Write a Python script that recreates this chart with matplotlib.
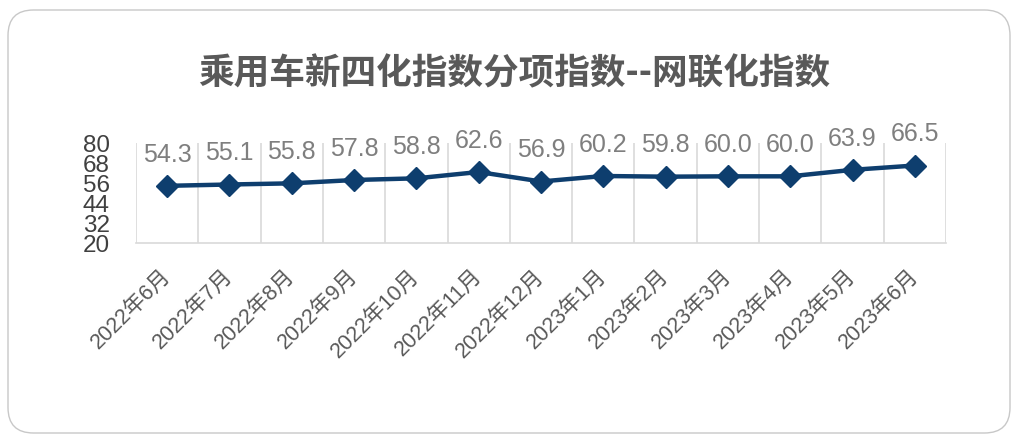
import matplotlib
matplotlib.use("Agg")
import matplotlib.pyplot as plt
from matplotlib.patches import FancyBboxPatch

plt.rcParams['font.family'] = ['Noto Sans CJK SC', 'DejaVu Sans']

categories = ["2022年6月", "2022年7月", "2022年8月", "2022年9月", "2022年10月",
              "2022年11月", "2022年12月", "2023年1月", "2023年2月", "2023年3月",
              "2023年4月", "2023年5月", "2023年6月"]
values = [54.3, 55.1, 55.8, 57.8, 58.8, 62.6, 56.9, 60.2, 59.8, 60.0, 60.0, 63.9, 66.5]
yticks = [20, 32, 44, 56, 68, 80]
title = "乘用车新四化指数分项指数--网联化指数"

W, H = 1019, 443
fig = plt.figure(figsize=(W / 100, H / 100), dpi=100)
fig.patch.set_facecolor('white')

# rounded outer frame
frame = FancyBboxPatch((8 / W, 10 / H), (1002) / W, (423) / H,
                       boxstyle="round,pad=0,rounding_size=0.025",
                       transform=fig.transFigure, fill=False,
                       edgecolor='#c8c8c8', linewidth=1.0,
                       mutation_aspect=W / H)
fig.patches.append(frame)

ax = fig.add_axes([136 / W, 1 - 243 / H, (946 - 136) / W, 100 / H])
n = len(categories)
x = list(range(n))
ax.plot(x, values, color='#0e3e6e', linewidth=3.2, marker='D',
        markersize=11.5, markerfacecolor='#0e3e6e', markeredgecolor='#0e3e6e',
        zorder=3, clip_on=False)

for xi, v in zip(x, values):
    ax.annotate(f"{v:.1f}", (xi, v), xytext=(0, 17.5), textcoords='offset points',
                ha='center', va='baseline', fontsize=18, color='#7f7f7f',
                family=['Liberation Sans', 'DejaVu Sans'])

ax.set_xlim(-0.5, n - 0.5)
ax.set_ylim(20, 80)
ax.set_yticks(yticks)
ax.set_yticklabels([str(t) for t in yticks], fontsize=17.5, color='#404040',
                   family=['Liberation Sans', 'DejaVu Sans'])
ax.set_xticks(x)
ax.set_xticklabels(categories, rotation=45, ha='right', va='center',
                   rotation_mode='anchor',
                   fontsize=15.5, color='#595959',
                   family=['Liberation Sans', 'Noto Sans CJK SC'])
ax.tick_params(axis='both', length=0)
ax.tick_params(axis='y', pad=19)
ax.tick_params(axis='x', pad=21.5)

# vertical category gridlines
for b in [i - 0.5 for i in range(n + 1)]:
    ax.axvline(b, color='#d9d9d9', linewidth=1.2, zorder=1)

for s in ['top', 'right', 'left']:
    ax.spines[s].set_visible(False)
ax.spines['bottom'].set_color('#d9d9d9')
ax.spines['bottom'].set_linewidth(1.2)

fig.text(514 / W, 1 - 74 / H, title, ha='center', va='center',
         fontsize=25.7, fontweight='bold', color='#595959')

fig.savefig('out.png', dpi=100, facecolor='white')
